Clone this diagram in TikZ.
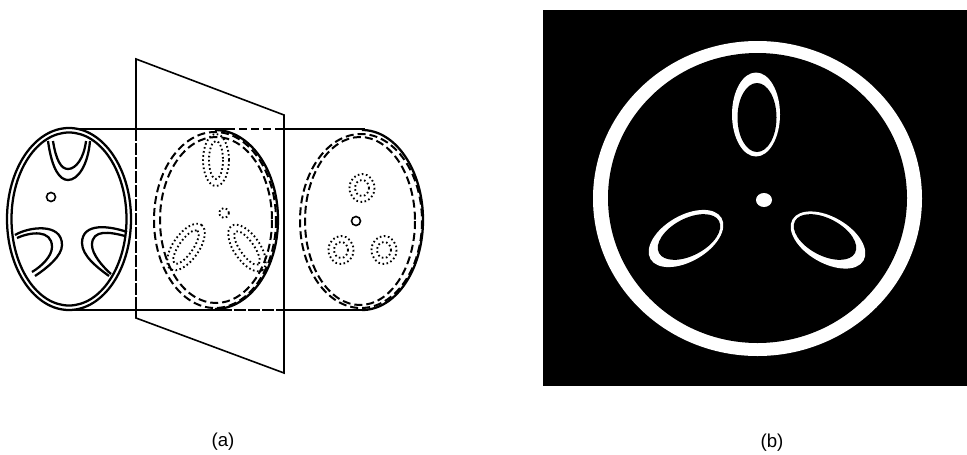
\documentclass[tikz,border=0pt]{standalone}
\usepackage{fontspec}
\setmainfont{Liberation Sans}
\tikzset{
	slika/.style={x=0.75pt, y=-0.75pt, font=\fontsize{14}{16}\selectfont},
	obris/.style={draw, line width=1.7pt},
	tanka/.style={draw, line width=1.2pt},
	crtkana/.style={draw, line width=1.5pt, dash pattern=on 6pt off 3pt},
	redka/.style={draw, line width=1.1pt, dash pattern=on 9pt off 1.5pt},
	pikcasta/.style={draw, line width=1.4pt, dash pattern=on 1.2pt off 1.9pt},
	oznaka/.style={inner sep=0pt},
}
\begin{document}
\begin{tikzpicture}[slika]
\useasboundingbox (0,0) rectangle (967,454);

% ---------- valj ----------
\draw[obris] (70,129) -- (227,129);
\draw[crtkana, line width=1.2pt] (227,129) -- (285,129);
\draw[obris] (285,129) -- (365,129);
\draw[obris] (70,310) -- (220,310);
\draw[redka] (220,310) -- (285,310);
\draw[obris] (285,310) -- (368,310);

% ---------- ravnina ----------
\draw[tanka] (136,129) -- (136,59) -- (284,115) -- (284,373) -- (136,318) -- (136,310);
\draw[redka] (136,129) -- (136,310);

% ---------- levo celo ----------
\draw[obris, fill=white] (69,219) ellipse [x radius=62, y radius=91];
\draw[obris] (69,219) ellipse [x radius=57.5, y radius=86.5];
\draw[obris] (48,141) .. controls (52,170) and (60,180) .. (68,180)
    .. controls (78,180) and (88,165) .. (90,141);
\draw[obris] (53,141) .. controls (56,160) and (61,169) .. (68,169)
    .. controls (76,169) and (84,158) .. (86,141);
\draw[obris] (15,235) .. controls (28,227) and (62,222) .. (62,245)
    .. controls (62,256) and (47,268) .. (35,276);
\draw[obris] (17,238) .. controls (30,232) and (52,229) .. (52,247)
    .. controls (52,256) and (42,266) .. (32,272);
\draw[obris] (127,232) .. controls (110,226) and (82,222) .. (82,243)
    .. controls (82,256) and (98,268) .. (109,276);
\draw[obris] (125,236) .. controls (110,232) and (92,229) .. (92,245)
    .. controls (92,254) and (102,266) .. (111,274);
\draw[tanka] (51,197) circle [radius=4.5];

% ---------- srednji prerez ----------
\draw[obris] (215,130) arc [start angle=-90, end angle=90, x radius=63, y radius=89.5];
\draw[crtkana] (215,220) ellipse [x radius=61, y radius=88];
\draw[crtkana] (216,220) ellipse [x radius=56, y radius=83];
\draw[pikcasta] (216,160) ellipse [x radius=13, y radius=26];
\draw[pikcasta] (216,160) ellipse [x radius=7, y radius=19];
\draw[pikcasta] (224,213) circle [radius=5];
\draw[pikcasta, shift={(186,247)}, rotate=55] (0,0) ellipse [x radius=27, y radius=13];
\draw[pikcasta, shift={(186,247)}, rotate=55] (0,0) ellipse [x radius=20, y radius=7];
\draw[pikcasta, shift={(247,248)}, rotate=-55] (0,0) ellipse [x radius=27, y radius=13];
\draw[pikcasta, shift={(247,248)}, rotate=-55] (0,0) ellipse [x radius=20, y radius=7];

% ---------- desno celo ----------
\draw[obris] (362,130) arc [start angle=-90, end angle=90, x radius=61, y radius=90];
\draw[crtkana] (361,221) ellipse [x radius=61, y radius=87];
\draw[crtkana] (360,221) ellipse [x radius=55, y radius=84];
\draw[pikcasta] (362,188) ellipse [x radius=12.5, y radius=14];
\draw[pikcasta] (362,188) ellipse [x radius=7, y radius=8];
\draw[tanka] (356,221) circle [radius=4.5];
\draw[pikcasta] (341,250) ellipse [x radius=12.5, y radius=14];
\draw[pikcasta] (341,250) ellipse [x radius=7, y radius=8];
\draw[pikcasta] (384,250) ellipse [x radius=12.5, y radius=14];
\draw[pikcasta] (384,250) ellipse [x radius=7, y radius=8];

% ---------- prerez (b) ----------
\fill[black] (543,10) rectangle (967,386);
\fill[white] (757.5,198.5) ellipse [x radius=164.5, y radius=157.5];
\fill[black] (757.5,198) ellipse [x radius=149.5, y radius=145];
\fill[white] (756,114.5) ellipse [x radius=24, y radius=42];
\fill[black] (757,117.5) ellipse [x radius=19.5, y radius=34.5];
\fill[white] (764,200) ellipse [x radius=8, y radius=7];
\fill[white, shift={(686,238.5)}, rotate=30] (0,0) ellipse [x radius=41, y radius=23];
\fill[black, shift={(689,237)}, rotate=28] (0,0) ellipse [x radius=34, y radius=18.5];
\fill[white, shift={(828,240)}, rotate=-30] (0,0) ellipse [x radius=41, y radius=23];
\fill[black, shift={(825,237)}, rotate=-28] (0,0) ellipse [x radius=34, y radius=18.5];

% ---------- oznake ----------
\node[oznaka] (oznakaa) at (223,442) {(a)};
\node[oznaka] (oznakab) at (772,443) {(b)};

\end{tikzpicture}
\end{document}
